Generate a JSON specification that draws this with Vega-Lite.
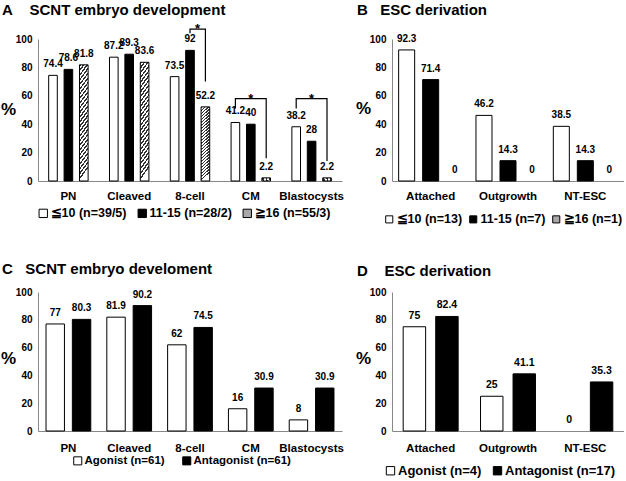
{
  "$schema": "https://vega.github.io/schema/vega-lite/v6.json",
  "background": "white",
  "padding": {"left": 0, "top": 2, "right": 0, "bottom": 0},
  "config": {
    "font": "Liberation Sans",
    "view": {"stroke": null},
    "axis": {"labelFont": "Liberation Sans", "labelFontWeight": "bold", "labelColor": "black", "domainColor": "#888888", "domainWidth": 1, "ticks": false, "grid": false, "titleFont": "Liberation Sans", "titleFontWeight": "bold", "titleColor": "black"},
    "legend": {"labelFont": "Liberation Sans", "labelFontWeight": "bold", "labelColor": "black", "symbolType": "square", "symbolStrokeColor": "black", "symbolStrokeWidth": 1, "padding": 0, "labelOffset": 1},
    "title": {"font": "Liberation Sans", "fontSize": 15, "fontWeight": "bold", "color": "black", "anchor": "start", "frame": "group"},
    "text": {"font": "Liberation Sans", "fontWeight": "bold", "fontSize": 10, "baseline": "alphabetic", "dy": -8}
  },
  "datasets": {
    "A": [
      {"stage": "PN", "grp": "≦10 (n=39/5)", "pct": 74.4},
      {"stage": "PN", "grp": "11-15 (n=28/2)", "pct": 78.6},
      {"stage": "PN", "grp": "≧16 (n=55/3)", "pct": 81.8},
      {"stage": "Cleaved", "grp": "≦10 (n=39/5)", "pct": 87.2},
      {"stage": "Cleaved", "grp": "11-15 (n=28/2)", "pct": 89.3},
      {"stage": "Cleaved", "grp": "≧16 (n=55/3)", "pct": 83.6},
      {"stage": "8-cell", "grp": "≦10 (n=39/5)", "pct": 73.5},
      {"stage": "8-cell", "grp": "11-15 (n=28/2)", "pct": 92},
      {"stage": "8-cell", "grp": "≧16 (n=55/3)", "pct": 52.2},
      {"stage": "CM", "grp": "≦10 (n=39/5)", "pct": 41.2},
      {"stage": "CM", "grp": "11-15 (n=28/2)", "pct": 40},
      {"stage": "CM", "grp": "≧16 (n=55/3)", "pct": 2.2},
      {"stage": "Blastocysts", "grp": "≦10 (n=39/5)", "pct": 38.2},
      {"stage": "Blastocysts", "grp": "11-15 (n=28/2)", "pct": 28},
      {"stage": "Blastocysts", "grp": "≧16 (n=55/3)", "pct": 2.2}
    ],
    "brackets": [
      {"id": 1, "o": 1, "stage": "8-cell", "grp": "11-15 (n=28/2)", "pct": 104},
      {"id": 1, "o": 2, "stage": "8-cell", "grp": "11-15 (n=28/2)", "pct": 107},
      {"id": 1, "o": 3, "stage": "8-cell", "grp": "≧16 (n=55/3)", "pct": 107},
      {"id": 1, "o": 4, "stage": "8-cell", "grp": "≧16 (n=55/3)", "pct": 70},
      {"id": 2, "o": 1, "stage": "CM", "grp": "≦10 (n=39/5)", "pct": 51},
      {"id": 2, "o": 2, "stage": "CM", "grp": "≦10 (n=39/5)", "pct": 58},
      {"id": 2, "o": 3, "stage": "CM", "grp": "≧16 (n=55/3)", "pct": 58},
      {"id": 2, "o": 4, "stage": "CM", "grp": "≧16 (n=55/3)", "pct": 16},
      {"id": 3, "o": 1, "stage": "Blastocysts", "grp": "≦10 (n=39/5)", "pct": 51},
      {"id": 3, "o": 2, "stage": "Blastocysts", "grp": "≦10 (n=39/5)", "pct": 58},
      {"id": 3, "o": 3, "stage": "Blastocysts", "grp": "≧16 (n=55/3)", "pct": 58},
      {"id": 3, "o": 4, "stage": "Blastocysts", "grp": "≧16 (n=55/3)", "pct": 14}
    ],
    "star1": [
      {"stage": "8-cell", "grp": "11-15 (n=28/2)", "pct": 107}
    ],
    "star2": [
      {"stage": "CM", "grp": "11-15 (n=28/2)", "pct": 58},
      {"stage": "Blastocysts", "grp": "11-15 (n=28/2)", "pct": 58}
    ],
    "B": [
      {"stage": "Attached", "grp": "≦10 (n=13)", "pct": 92.3},
      {"stage": "Attached", "grp": "11-15 (n=7)", "pct": 71.4},
      {"stage": "Attached", "grp": "≧16 (n=1)", "pct": 0},
      {"stage": "Outgrowth", "grp": "≦10 (n=13)", "pct": 46.2},
      {"stage": "Outgrowth", "grp": "11-15 (n=7)", "pct": 14.3},
      {"stage": "Outgrowth", "grp": "≧16 (n=1)", "pct": 0},
      {"stage": "NT-ESC", "grp": "≦10 (n=13)", "pct": 38.5},
      {"stage": "NT-ESC", "grp": "11-15 (n=7)", "pct": 14.3},
      {"stage": "NT-ESC", "grp": "≧16 (n=1)", "pct": 0}
    ],
    "C": [
      {"stage": "PN", "grp": "Agonist (n=61)", "pct": 77},
      {"stage": "PN", "grp": "Antagonist (n=61)", "pct": 80.3},
      {"stage": "Cleaved", "grp": "Agonist (n=61)", "pct": 81.9},
      {"stage": "Cleaved", "grp": "Antagonist (n=61)", "pct": 90.2},
      {"stage": "8-cell", "grp": "Agonist (n=61)", "pct": 62},
      {"stage": "8-cell", "grp": "Antagonist (n=61)", "pct": 74.5},
      {"stage": "CM", "grp": "Agonist (n=61)", "pct": 16},
      {"stage": "CM", "grp": "Antagonist (n=61)", "pct": 30.9},
      {"stage": "Blastocysts", "grp": "Agonist (n=61)", "pct": 8},
      {"stage": "Blastocysts", "grp": "Antagonist (n=61)", "pct": 30.9}
    ],
    "D": [
      {"stage": "Attached", "grp": "Agonist (n=4)", "pct": 75},
      {"stage": "Attached", "grp": "Antagonist (n=17)", "pct": 82.4},
      {"stage": "Outgrowth", "grp": "Agonist (n=4)", "pct": 25},
      {"stage": "Outgrowth", "grp": "Antagonist (n=17)", "pct": 41.1},
      {"stage": "NT-ESC", "grp": "Agonist (n=4)", "pct": 0},
      {"stage": "NT-ESC", "grp": "Antagonist (n=17)", "pct": 35.3}
    ]
  },
  "bounds": "flush",
  "columns": 2,
  "spacing": {"row": 111, "column": 50},
  "resolve": {"scale": {"x": "independent", "y": "independent", "xOffset": "independent", "fill": "independent"}, "legend": {"fill": "independent"}, "axis": {"x": "independent", "y": "independent"}},
  "concat": [
    {
      "width": 304,
      "height": 142,
      "title": {"text": "A\u00a0\u00a0\u00a0\u00a0SCNT embryo development", "dx": -36, "offset": 5},
      "encoding": {
        "x": {"field": "stage", "type": "nominal", "scale": {"domain": ["PN", "Cleaved", "8-cell", "CM", "Blastocysts"], "paddingInner": 0.24, "paddingOuter": 0.12}, "axis": {"title": null, "labelAngle": 0, "labelFontSize": 11.5, "labelPadding": 9}},
        "xOffset": {"field": "grp", "type": "nominal", "scale": {"domain": ["≦10 (n=39/5)", "11-15 (n=28/2)", "≧16 (n=55/3)"], "paddingInner": 0.44, "paddingOuter": 0.22}},
        "y": {"field": "pct", "type": "quantitative", "scale": {"domain": [0, 100], "nice": false}, "axis": {"values": [0, 20, 40, 60, 80, 100], "title": "%", "titleAngle": 0, "titleX": -30, "titleY": 70, "titleFontSize": 17, "titleAlign": "center", "titleBaseline": "middle", "labelFontSize": 10, "labelPadding": 6}}
      },
      "layer": [
        {
          "data": {"name": "A"},
          "mark": {"type": "bar", "stroke": "black", "strokeWidth": 1},
          "encoding": {
            "fill": {
              "field": "grp", "type": "nominal",
              "scale": {"domain": ["≦10 (n=39/5)", "11-15 (n=28/2)", "≧16 (n=55/3)"], "range": ["white", "black", "#a8a8a8"]},
              "legend": {"title": null, "orient": "none", "legendX": -1, "legendY": 168, "direction": "horizontal", "symbolSize": 70, "labelFontSize": 12.5, "columnPadding": 9},
              "condition": {"test": "datum.grp === '≧16 (n=55/3)'", "value": {"gradient": "linear", "x1": 0, "y1": 0, "x2": 0.1, "y2": 1, "stops": [
                {"offset": 0, "color": "#333"}, {"offset": 0.018, "color": "#333"}, {"offset": 0.018, "color": "#fff"}, {"offset": 0.04, "color": "#fff"},
                {"offset": 0.04, "color": "#333"}, {"offset": 0.058, "color": "#333"}, {"offset": 0.058, "color": "#fff"}, {"offset": 0.08, "color": "#fff"},
                {"offset": 0.08, "color": "#333"}, {"offset": 0.098, "color": "#333"}, {"offset": 0.098, "color": "#fff"}, {"offset": 0.12, "color": "#fff"},
                {"offset": 0.12, "color": "#333"}, {"offset": 0.138, "color": "#333"}, {"offset": 0.138, "color": "#fff"}, {"offset": 0.16, "color": "#fff"},
                {"offset": 0.16, "color": "#333"}, {"offset": 0.178, "color": "#333"}, {"offset": 0.178, "color": "#fff"}, {"offset": 0.2, "color": "#fff"},
                {"offset": 0.2, "color": "#333"}, {"offset": 0.218, "color": "#333"}, {"offset": 0.218, "color": "#fff"}, {"offset": 0.24, "color": "#fff"},
                {"offset": 0.24, "color": "#333"}, {"offset": 0.258, "color": "#333"}, {"offset": 0.258, "color": "#fff"}, {"offset": 0.28, "color": "#fff"},
                {"offset": 0.28, "color": "#333"}, {"offset": 0.298, "color": "#333"}, {"offset": 0.298, "color": "#fff"}, {"offset": 0.32, "color": "#fff"},
                {"offset": 0.32, "color": "#333"}, {"offset": 0.338, "color": "#333"}, {"offset": 0.338, "color": "#fff"}, {"offset": 0.36, "color": "#fff"},
                {"offset": 0.36, "color": "#333"}, {"offset": 0.378, "color": "#333"}, {"offset": 0.378, "color": "#fff"}, {"offset": 0.4, "color": "#fff"},
                {"offset": 0.4, "color": "#333"}, {"offset": 0.418, "color": "#333"}, {"offset": 0.418, "color": "#fff"}, {"offset": 0.44, "color": "#fff"},
                {"offset": 0.44, "color": "#333"}, {"offset": 0.458, "color": "#333"}, {"offset": 0.458, "color": "#fff"}, {"offset": 0.48, "color": "#fff"},
                {"offset": 0.48, "color": "#333"}, {"offset": 0.498, "color": "#333"}, {"offset": 0.498, "color": "#fff"}, {"offset": 0.52, "color": "#fff"},
                {"offset": 0.52, "color": "#333"}, {"offset": 0.538, "color": "#333"}, {"offset": 0.538, "color": "#fff"}, {"offset": 0.56, "color": "#fff"},
                {"offset": 0.56, "color": "#333"}, {"offset": 0.578, "color": "#333"}, {"offset": 0.578, "color": "#fff"}, {"offset": 0.6, "color": "#fff"},
                {"offset": 0.6, "color": "#333"}, {"offset": 0.618, "color": "#333"}, {"offset": 0.618, "color": "#fff"}, {"offset": 0.64, "color": "#fff"},
                {"offset": 0.64, "color": "#333"}, {"offset": 0.658, "color": "#333"}, {"offset": 0.658, "color": "#fff"}, {"offset": 0.68, "color": "#fff"},
                {"offset": 0.68, "color": "#333"}, {"offset": 0.698, "color": "#333"}, {"offset": 0.698, "color": "#fff"}, {"offset": 0.72, "color": "#fff"},
                {"offset": 0.72, "color": "#333"}, {"offset": 0.738, "color": "#333"}, {"offset": 0.738, "color": "#fff"}, {"offset": 0.76, "color": "#fff"},
                {"offset": 0.76, "color": "#333"}, {"offset": 0.778, "color": "#333"}, {"offset": 0.778, "color": "#fff"}, {"offset": 0.8, "color": "#fff"},
                {"offset": 0.8, "color": "#333"}, {"offset": 0.818, "color": "#333"}, {"offset": 0.818, "color": "#fff"}, {"offset": 0.84, "color": "#fff"},
                {"offset": 0.84, "color": "#333"}, {"offset": 0.858, "color": "#333"}, {"offset": 0.858, "color": "#fff"}, {"offset": 0.88, "color": "#fff"},
                {"offset": 0.88, "color": "#333"}, {"offset": 0.898, "color": "#333"}, {"offset": 0.898, "color": "#fff"}, {"offset": 0.92, "color": "#fff"},
                {"offset": 0.92, "color": "#333"}, {"offset": 0.938, "color": "#333"}, {"offset": 0.938, "color": "#fff"}, {"offset": 0.96, "color": "#fff"},
                {"offset": 0.96, "color": "#333"}, {"offset": 0.978, "color": "#333"}, {"offset": 0.978, "color": "#fff"}, {"offset": 1, "color": "#fff"}
              ]}}
            }
          }
        },
        {
          "data": {"name": "A"},
          "mark": {"type": "text"},
          "encoding": {"text": {"field": "pct", "type": "quantitative"}}
        },
        {
          "data": {"name": "brackets"},
          "mark": {"type": "line", "color": "black", "strokeWidth": 1.2},
          "encoding": {"detail": {"field": "id"}, "order": {"field": "o", "type": "quantitative"}}
        },
        {
          "data": {"name": "star1"},
          "mark": {"type": "text", "fontSize": 13, "dx": 7.5, "dy": 4},
          "encoding": {"text": {"value": "*"}}
        },
        {
          "data": {"name": "star2"},
          "mark": {"type": "text", "fontSize": 13, "dy": 4},
          "encoding": {"text": {"value": "*"}}
        }
      ]
    },
    {
      "width": 232,
      "height": 142,
      "title": {"text": "B\u00a0\u00a0\u00a0ESC derivation", "dx": -35, "offset": 16},
      "encoding": {
        "x": {"field": "stage", "type": "nominal", "scale": {"domain": ["Attached", "Outgrowth", "NT-ESC"], "paddingInner": 0, "paddingOuter": 0}, "axis": {"title": null, "labelAngle": 0, "labelFontSize": 11.5, "labelPadding": 9}},
        "xOffset": {"field": "grp", "type": "nominal", "scale": {"domain": ["≦10 (n=13)", "11-15 (n=7)", "≧16 (n=1)"], "paddingInner": 0.333, "paddingOuter": 0.277}},
        "y": {"field": "pct", "type": "quantitative", "scale": {"domain": [0, 100], "nice": false}, "axis": {"values": [0, 20, 40, 60, 80, 100], "title": "%", "titleAngle": 0, "titleX": -29, "titleY": 69, "titleFontSize": 17, "titleAlign": "center", "titleBaseline": "middle", "labelFontSize": 10, "labelPadding": 6}}
      },
      "layer": [
        {
          "data": {"name": "B"},
          "transform": [{"filter": "datum.pct > 0"}],
          "mark": {"type": "bar", "stroke": "black", "strokeWidth": 1},
          "encoding": {
            "fill": {
              "field": "grp", "type": "nominal",
              "scale": {"domain": ["≦10 (n=13)", "11-15 (n=7)", "≧16 (n=1)"], "range": ["white", "black", "#a8a8a8"]},
              "legend": {"title": null, "orient": "none", "legendX": -9, "legendY": 174, "direction": "horizontal", "symbolSize": 50, "labelFontSize": 12.5, "columnPadding": 4}
            }
          }
        },
        {
          "data": {"name": "B"},
          "mark": {"type": "text"},
          "encoding": {"text": {"field": "pct", "type": "quantitative"}}
        }
      ]
    },
    {
      "width": 304,
      "height": 139,
      "title": {"text": "C\u00a0\u00a0\u00a0SCNT embryo develoment", "dx": -36, "offset": 10},
      "encoding": {
        "x": {"field": "stage", "type": "nominal", "scale": {"domain": ["PN", "Cleaved", "8-cell", "CM", "Blastocysts"], "paddingInner": 0.16, "paddingOuter": 0.08}, "axis": {"title": null, "labelAngle": 0, "labelFontSize": 11.5, "labelPadding": 11}},
        "xOffset": {"field": "grp", "type": "nominal", "scale": {"domain": ["Agonist (n=61)", "Antagonist (n=61)"], "paddingInner": 0.3, "paddingOuter": 0.12}},
        "y": {"field": "pct", "type": "quantitative", "scale": {"domain": [0, 100], "nice": false}, "axis": {"values": [0, 20, 40, 60, 80, 100], "title": "%", "titleAngle": 0, "titleX": -30, "titleY": 66, "titleFontSize": 17, "titleAlign": "center", "titleBaseline": "middle", "labelFontSize": 10, "labelPadding": 6}}
      },
      "layer": [
        {
          "data": {"name": "C"},
          "mark": {"type": "bar", "stroke": "black", "strokeWidth": 1},
          "encoding": {
            "fill": {
              "field": "grp", "type": "nominal",
              "scale": {"domain": ["Agonist (n=61)", "Antagonist (n=61)"], "range": ["white", "black"]},
              "legend": {"title": null, "orient": "none", "legendX": 34, "legendY": 163, "direction": "horizontal", "symbolSize": 65, "labelFontSize": 11.5, "columnPadding": 15}
            }
          }
        },
        {
          "data": {"name": "C"},
          "mark": {"type": "text"},
          "encoding": {"text": {"field": "pct", "type": "quantitative"}}
        }
      ]
    },
    {
      "width": 232,
      "height": 139,
      "title": {"text": "D\u00a0\u00a0\u00a0\u00a0ESC derivation", "dx": -35, "offset": 8},
      "encoding": {
        "x": {"field": "stage", "type": "nominal", "scale": {"domain": ["Attached", "Outgrowth", "NT-ESC"], "paddingInner": 0, "paddingOuter": 0}, "axis": {"title": null, "labelAngle": 0, "labelFontSize": 11.5, "labelPadding": 11}},
        "xOffset": {"field": "grp", "type": "nominal", "scale": {"domain": ["Agonist (n=4)", "Antagonist (n=17)"], "paddingInner": 0.31, "paddingOuter": 0.344}},
        "y": {"field": "pct", "type": "quantitative", "scale": {"domain": [0, 100], "nice": false}, "axis": {"values": [0, 20, 40, 60, 80, 100], "title": "%", "titleAngle": 0, "titleX": -29, "titleY": 66, "titleFontSize": 17, "titleAlign": "center", "titleBaseline": "middle", "labelFontSize": 10, "labelPadding": 6}}
      },
      "layer": [
        {
          "data": {"name": "D"},
          "transform": [{"filter": "datum.pct > 0"}],
          "mark": {"type": "bar", "stroke": "black", "strokeWidth": 1},
          "encoding": {
            "fill": {
              "field": "grp", "type": "nominal",
              "scale": {"domain": ["Agonist (n=4)", "Antagonist (n=17)"], "range": ["white", "black"]},
              "legend": {"title": null, "orient": "none", "legendX": -8, "legendY": 172, "direction": "horizontal", "symbolSize": 70, "labelFontSize": 13, "columnPadding": 9}
            }
          }
        },
        {
          "data": {"name": "D"},
          "mark": {"type": "text", "fontSize": 10.5},
          "encoding": {"text": {"field": "pct", "type": "quantitative"}}
        }
      ]
    }
  ]
}
